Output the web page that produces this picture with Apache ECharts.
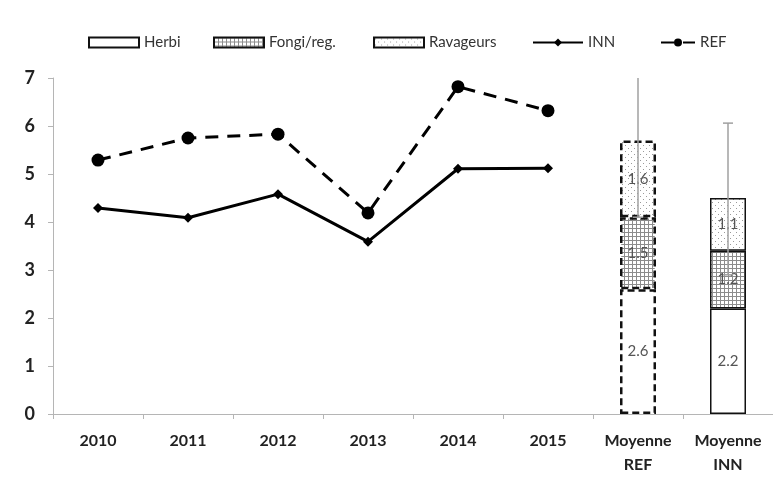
<!DOCTYPE html>
<html>
<head>
<meta charset="utf-8">
<script src="https://cdn.jsdelivr.net/npm/echarts@6/dist/echarts.min.js"></script>
<style>
  html, body { margin: 0; padding: 0; background: #fff; }
  #chart { width: 773px; height: 477px; }
</style>
</head>
<body>
<div id="chart"></div>
<script>
// categories
const categories = ['2010', '2011', '2012', '2013', '2014', '2015', 'Moyenne\nREF', 'Moyenne\nINN'];
// lines (yearly values)
const inn = [4.29, 4.09, 4.58, 3.59, 5.11, 5.12, null, null];
const ref = [5.29, 5.75, 5.83, 4.19, 6.82, 6.32, null, null];
// stacked bars (means)
const herbi = [null, null, null, null, null, null, 2.6, 2.2];
const fongi = [null, null, null, null, null, null, 1.5, 1.2];
const ravageurs = [null, null, null, null, null, null, 1.6, 1.1];
// error bars: [category index, low, high]
const errREF = [6, 4.1, 7.3];
const errINN = [7, 2.9, 6.06];
const yTicks = [0, 7, 1]; // min, max, interval

const FONT = "Lato, 'Open Sans', sans-serif";

// hachures
function gridPattern() {
  const c = document.createElement('canvas');
  c.width = 4; c.height = 4;
  const ctx = c.getContext('2d');
  ctx.fillStyle = '#fff';
  ctx.fillRect(0, 0, 4, 4);
  ctx.strokeStyle = '#8c8c8c';
  ctx.lineWidth = 1;
  ctx.beginPath();
  ctx.moveTo(0.5, 0); ctx.lineTo(0.5, 4);
  ctx.moveTo(0, 0.5); ctx.lineTo(4, 0.5);
  ctx.stroke();
  return { image: c, repeat: 'repeat' };
}
function dotPattern() {
  const c = document.createElement('canvas');
  c.width = 6; c.height = 6;
  const ctx = c.getContext('2d');
  ctx.fillStyle = '#fff';
  ctx.fillRect(0, 0, 6, 6);
  ctx.fillStyle = '#9a9a9a';
  ctx.fillRect(1, 1, 1, 1);
  ctx.fillRect(4, 4, 1, 1);
  return { image: c, repeat: 'repeat' };
}

// bordure pointillée pour REF
function withDash(arr) {
  return arr.map((v, i) => i === 6 ? { value: v, itemStyle: { borderType: [7, 4], borderWidth: 2.5 } } : v);
}

const barLabel = {
  show: true,
  position: 'inside',
  color: '#555',
  fontFamily: FONT,
  fontSize: 15
};

function barSeries(name, data, color) {
  return {
    name: name,
    type: 'bar',
    stack: 'moy',
    barWidth: 36,
    data: withDash(data),
    itemStyle: { color: color, borderColor: '#111', borderWidth: 1.5 },
    label: barLabel,
    emphasis: { disabled: true }
  };
}

function renderErr(params, api) {
  const x = api.value(0);
  const lo = api.coord([x, api.value(1)]);
  const hi = api.coord([x, api.value(2)]);
  const style = { stroke: '#a0a0a0', lineWidth: 1.5 };
  return {
    type: 'group',
    children: [
      { type: 'line', shape: { x1: lo[0], y1: lo[1], x2: hi[0], y2: hi[1] }, style: style },
      { type: 'line', shape: { x1: lo[0] - 5, y1: lo[1], x2: lo[0] + 5, y2: lo[1] }, style: style },
      { type: 'line', shape: { x1: hi[0] - 5, y1: hi[1], x2: hi[0] + 5, y2: hi[1] }, style: style }
    ]
  };
}

// une légende par élément pour caler les positions
function legendItem(name, left, w, icon) {
  const item = { name: name };
  if (icon) item.icon = icon;
  return {
    left: left - 5,
    top: 30,
    itemWidth: w,
    itemHeight: 10,
    textStyle: { fontFamily: FONT, fontSize: 15, color: '#333' },
    data: [item]
  };
}

const chart = echarts.init(document.getElementById('chart'));
const option = {
  animation: false,
  backgroundColor: '#fff',
  grid: { left: 53, top: 78, width: 723, height: 338 },
  legend: [
    legendItem('Herbi', 88, 50, 'rect'),
    legendItem('Fongi/reg.', 213, 50, 'rect'),
    legendItem('Ravageurs', 373, 50, 'rect'),
    legendItem('INN', 532, 50),
    legendItem('REF', 660, 34)
  ],
  xAxis: {
    type: 'category',
    data: categories,
    axisLine: { lineStyle: { color: '#b5b5b5', width: 1 } },
    axisTick: { show: true, length: 5, interval: 0, lineStyle: { color: '#b5b5b5' } },
    axisLabel: {
      interval: 0,
      margin: 15,
      fontFamily: FONT,
      fontSize: 16,
      fontWeight: 'bold',
      color: '#222',
      lineHeight: 24
    }
  },
  yAxis: {
    type: 'value',
    min: yTicks[0],
    max: yTicks[1],
    interval: yTicks[2],
    splitLine: { show: false },
    axisLine: { show: true, lineStyle: { color: '#b5b5b5', width: 1 } },
    axisTick: { show: true, length: 5, lineStyle: { color: '#b5b5b5' } },
    axisLabel: {
      margin: 18,
      fontFamily: FONT,
      fontSize: 18,
      fontWeight: 'bold',
      color: '#222'
    }
  },
  series: [
    barSeries('Herbi', herbi, '#fff'),
    barSeries('Fongi/reg.', fongi, gridPattern()),
    barSeries('Ravageurs', ravageurs, dotPattern()),
    {
      name: 'INN',
      type: 'line',
      data: inn,
      symbol: 'diamond',
      symbolSize: 10,
      itemStyle: { color: '#000' },
      lineStyle: { color: '#000', width: 3 }
    },
    {
      name: 'REF',
      type: 'line',
      data: ref,
      symbol: 'circle',
      symbolSize: 13,
      itemStyle: { color: '#000' },
      lineStyle: { color: '#000', width: 3, type: [13, 9] }
    },
    {
      name: 'err',
      type: 'custom',
      clip: true,
      renderItem: renderErr,
      data: [errREF, errINN],
      z: 5,
      silent: true
    }
  ]
};
chart.setOption(option);
</script>
</body>
</html>
